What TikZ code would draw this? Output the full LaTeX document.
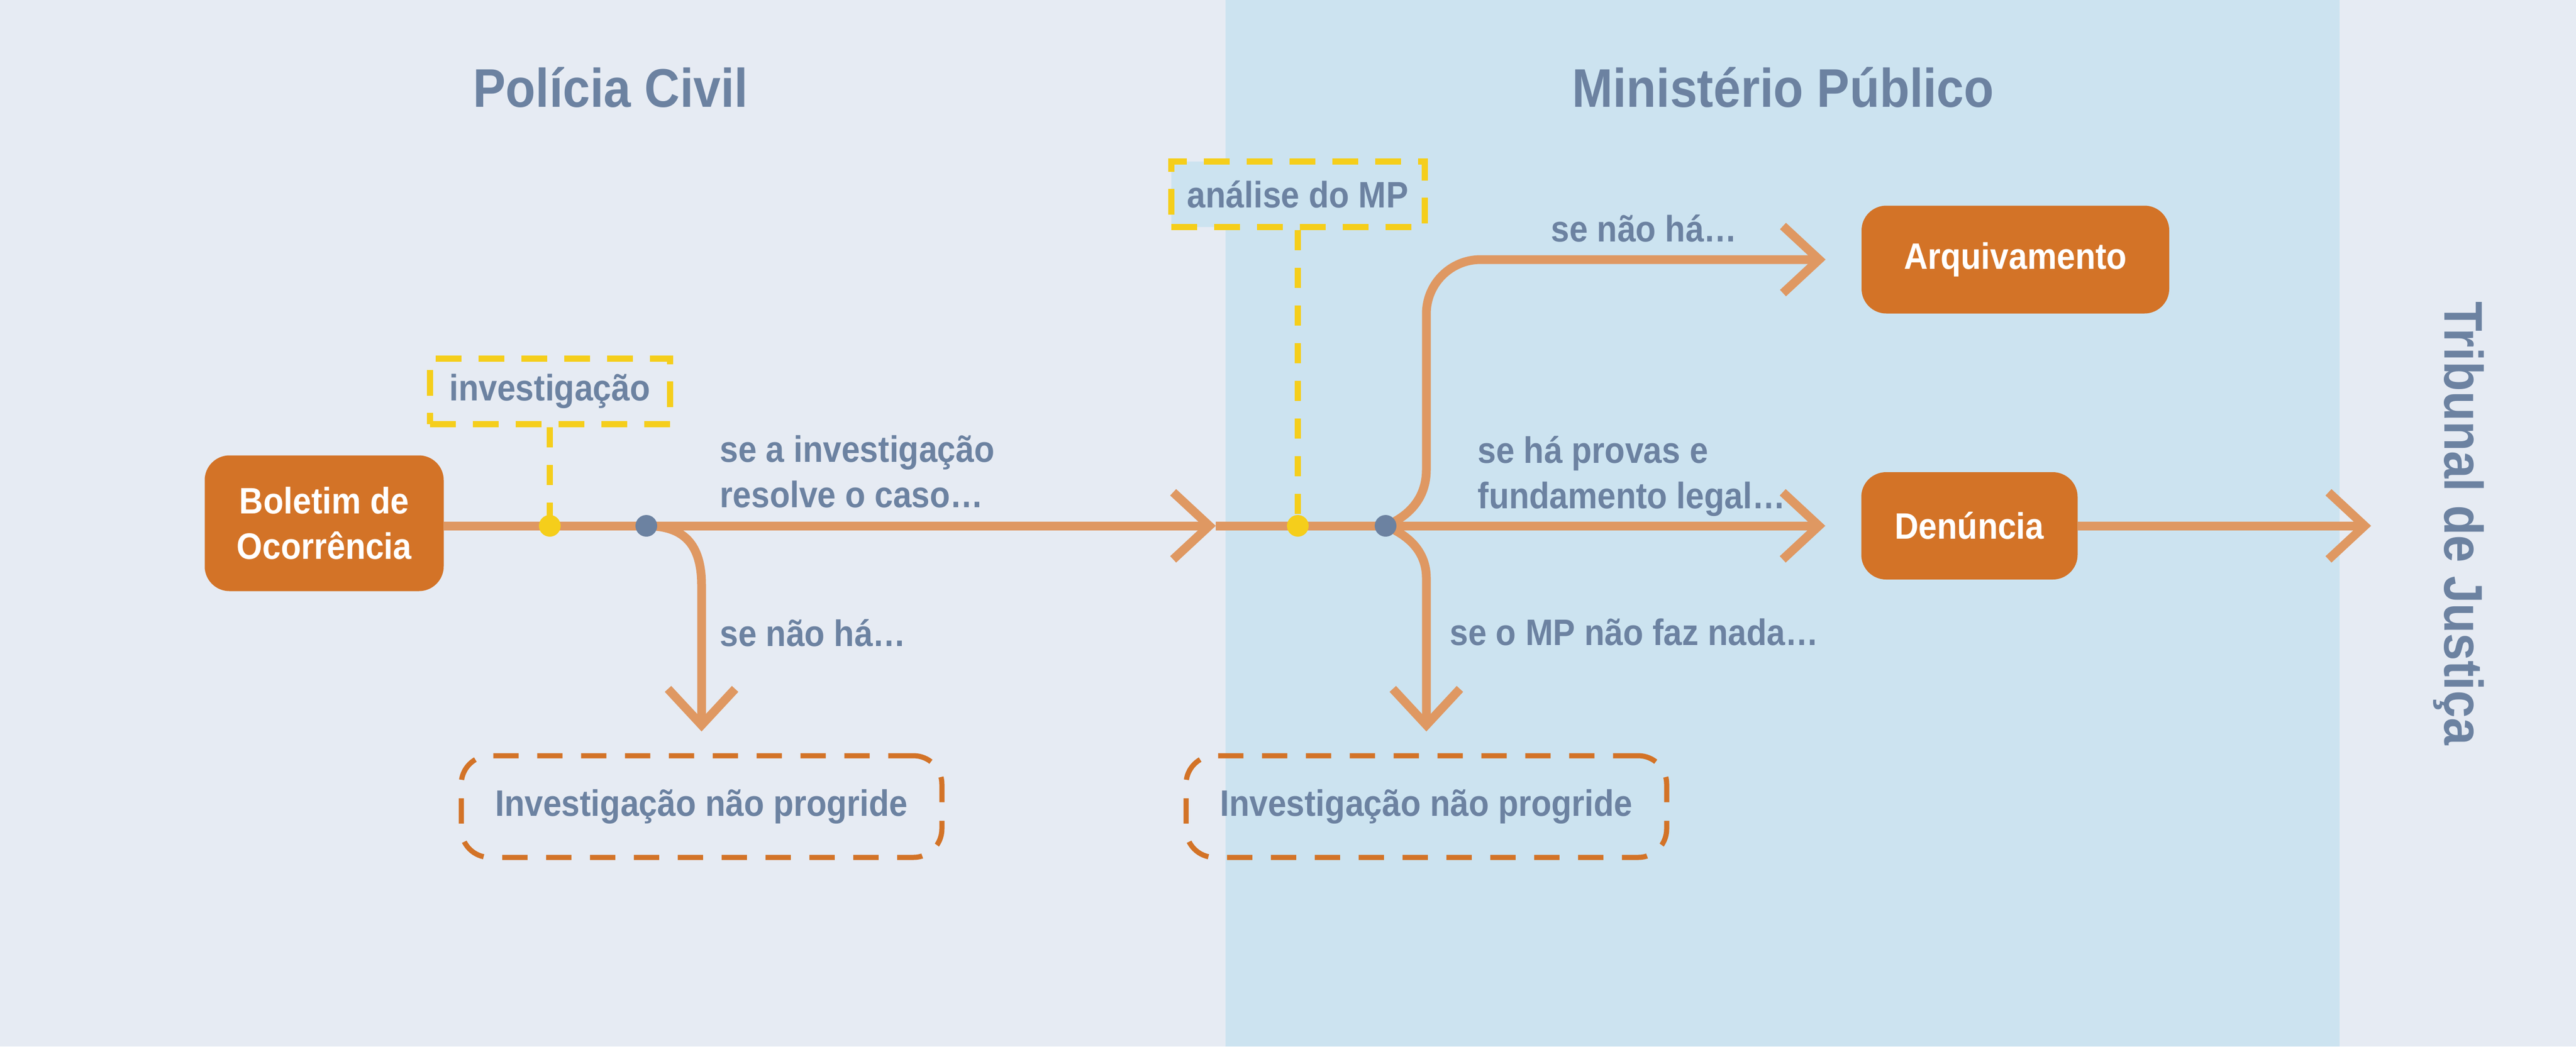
\documentclass[tikz,border=0pt]{standalone}
\usepackage{fontspec}
\setmainfont{Liberation Sans}[FakeStretch=0.9]
\usetikzlibrary{arrows.meta}
\definecolor{bgGray}{HTML}{E6EBF3}
\definecolor{mpBlue}{HTML}{CCE3F0}
\definecolor{textBlue}{HTML}{6C82A1}
\definecolor{boxOrange}{HTML}{D37327}
\definecolor{lineOrange}{HTML}{DF9862}
\definecolor{markYellow}{HTML}{F5CE1B}
\begin{document}
\begin{tikzpicture}[x=1cm,y=-1cm,
	>={Straight Barb[length=7mm,width=13mm]},
	flow/.style={draw=lineOrange,line width=1.7mm},
	markline/.style={draw=markYellow,line width=1.2mm,dash pattern=on 3.9mm off 3.4mm},
	orangebox/.style={fill=boxOrange,rounded corners=4.8mm,text=white,font=\lbl,align=center,inner sep=0pt},
	markbox/.style={draw=markYellow,line width=1.2mm,dash pattern=on 5mm off 3.3mm,text=textBlue,font=\lbl,inner sep=0pt,minimum height=1.27cm},
	nogo/.style={draw=boxOrange,line width=1mm,dash pattern=on 4.9mm off 3.6mm,rounded corners=5.5mm,text=textBlue,font=\lbl,minimum width=9.31cm,minimum height=1.97cm},
	lbl/.style={text=textBlue,font=\lbl,anchor=base west,align=left,inner sep=0pt},
	title/.style={text=textBlue,font=\ttl,anchor=base,inner sep=0pt}]
	\def\lbl{\fontsize{20.3}{25}\selectfont\bfseries}
	\def\ttl{\fontsize{30}{36}\selectfont\bfseries}
	% nen
	\useasboundingbox (0,0) rectangle (49.90,20.28);
	\fill[bgGray] (0,0) rectangle (49.90,20.28);
	\fill[mpBlue] (23.74,0) rectangle (45.32,20.28);
	% tieu de
	\node[title] (pc) at (11.83,2.07) {Polícia Civil};
	\node[title] (mp) at (34.54,2.07) {Ministério Público};
	\node[title,rotate=-90] (trib) at (47.35,10.14) {Tribunal de Justiça};
	% cac o
	\node[orangebox,minimum width=4.63cm,minimum height=2.63cm] (bo) at (6.28,10.14) {Boletim de\\Ocorrência};
	\node[orangebox,minimum width=5.96cm,minimum height=2.09cm] (arq) at (39.04,5.03) {Arquivamento};
	\node[orangebox,minimum width=4.19cm,minimum height=2.08cm] (den) at (38.15,10.19) {Denúncia};
	\node[markbox,fill=bgGray,minimum width=4.65cm] (inv) at (10.65,7.585) {investigação};
	\node[markbox,fill=mpBlue,minimum width=4.91cm] (amp) at (25.14,3.765) {análise do MP};
	\node[nogo] (nao1) at (13.59,15.63) {Investigação não progride};
	\node[nogo] (nao2) at (27.63,15.63) {Investigação não progride};
	% diem tren duong chinh
	\coordinate (yd1) at (10.65,10.19);
	\coordinate (gd1) at (12.52,10.19);
	\coordinate (mid) at (23.55,10.19);
	\coordinate (yd2) at (25.14,10.19);
	\coordinate (gd2) at (26.84,10.19);
	\coordinate (tj) at (45.93,10.19);
	% duong chinh
	\draw[flow] (bo.east |- yd1) -- (gd1);
	\draw[flow,->] (gd1) -- (mid);
	\draw[flow] (mid) -- (gd2);
	\draw[flow,->] (gd2) -- ([xshift=-6.9mm]den.west);
	\draw[flow,->] (den) -- (tj);
	% nhanh
	\draw[flow,->] (gd1) .. controls (13.25,10.19) and (13.59,10.55) .. (13.59,11.34) -- ([yshift=4.2mm]nao1.north);
	\draw[flow,->] (gd2) .. controls (27.30,10.00) and (27.63,9.65) .. (27.63,9.10) -- (27.63,6.08)
		.. controls (27.63,5.50) and (28.10,5.03) .. (28.68,5.03) -- ([xshift=-6.9mm]arq.west);
	\draw[flow,->] (gd2) .. controls (27.30,10.38) and (27.63,10.70) .. (27.63,11.20) -- ([yshift=4.2mm]nao2.north);
	% net dut vang
	\draw[markline] (inv) -- (yd1);
	\draw[markline] (amp) -- (yd2);
	\fill[markYellow] (yd1) circle (0.21);
	\fill[markYellow] (yd2) circle (0.21);
	\fill[textBlue] (gd1) circle (0.21);
	\fill[textBlue] (gd2) circle (0.21);
	% nhan
	\node[lbl] (l1) at (13.94,9.83) {se a investigação\\resolve o caso…};
	\node[lbl] (l2) at (13.94,12.52) {se não há…};
	\node[lbl] (l3) at (30.04,4.68) {se não há…};
	\node[lbl] (l4) at (28.62,9.85) {se há provas e\\fundamento legal…};
	\node[lbl] (l5) at (28.08,12.50) {se o MP não faz nada…};
\end{tikzpicture}
\end{document}
